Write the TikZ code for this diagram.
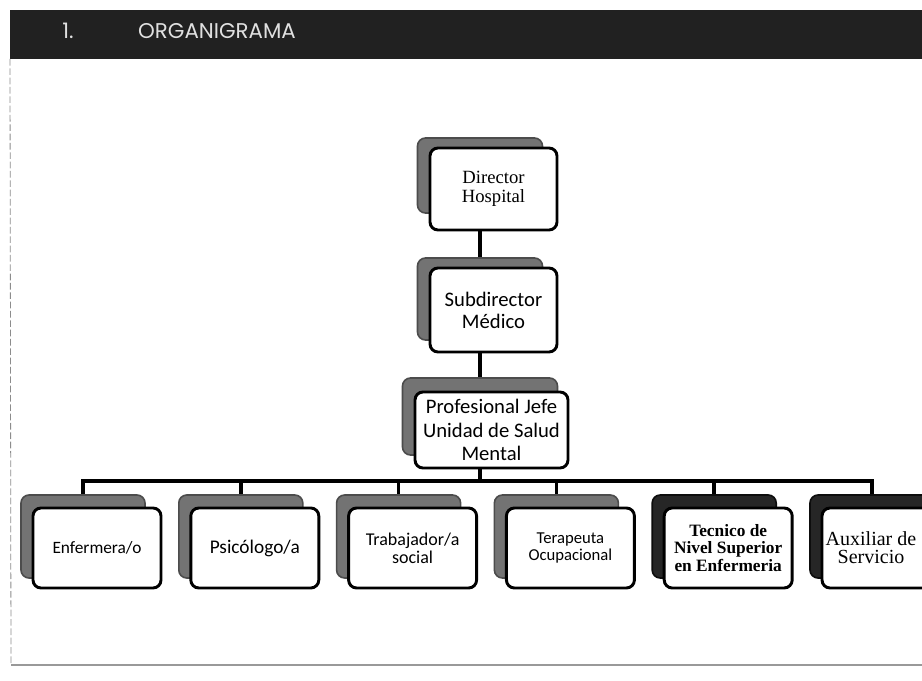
\documentclass[tikz,border=0pt]{standalone}
\usepackage{fontspec}
\setmainfont{Liberation Serif}
\newfontfamily\calibri{Carlito}
\newfontfamily\headfont{Poppins}
\usetikzlibrary{backgrounds}
\tikzset{
  shadowbox/.style={draw=black!70, fill=black!55, line width=1.2pt, rounded corners=6pt,
    minimum width=124*0.75pt, minimum height=83*0.75pt, outer sep=0pt, inner sep=0pt},
  darkshadow/.style={shadowbox, fill=black!85, draw=black!95},
  frontbox/.style={draw=black, fill=white, line width=2.2pt, rounded corners=6pt,
    minimum width=128*0.75pt, minimum height=80*0.75pt, outer sep=0pt, inner sep=1pt, align=center},
  conn/.style={line width=2.6pt, draw=black},
  headtext/.style={text=black!12, font=\headfont\fontsize{16pt}{18pt}\selectfont, inner sep=0pt},
}
\begin{document}
\begin{tikzpicture}[x=0.75pt,y=-0.75pt]
\useasboundingbox (0,0) rectangle (922,681);
\clip (0,0) rectangle (922,681);
% header
\node[fill=black!87, minimum width=912*0.75pt, minimum height=49*0.75pt, inner sep=0pt, outer sep=0pt, anchor=north west] (head) at (10,10) {};
\node[headtext] (num) at (68,31) {1.};
\node[headtext] (title) at (217,31) {ORGANIGRAMA};
% page border
\draw[black!45, line width=0.6pt, dash pattern=on 5pt off 2pt] (head.south west) -- (11,665) coordinate (pgcorner);
\draw[black!40, line width=0.8pt] (pgcorner) -- (922,665);

% top chain
\node[shadowbox, minimum width=125*0.75pt, minimum height=75*0.75pt] (dirS) at (480,175.5) {};
\node[frontbox, minimum width=127*0.75pt, minimum height=82*0.75pt, font=\fontsize{14pt}{14pt}\selectfont] (dirF) at (493.5,189) {Director\\Hospital};

\node[shadowbox, minimum width=125*0.75pt, minimum height=82*0.75pt] (subS) at (480,299) {};
\node[frontbox, minimum width=127*0.75pt, minimum height=84*0.75pt, font=\calibri\fontsize{15.5pt}{16.5pt}\selectfont] (subF) at (493.5,310) {Subdirector\\Médico};

\node[shadowbox, minimum width=155*0.75pt, minimum height=77*0.75pt] (profS) at (480,416.5) {};
\node[frontbox, minimum width=153*0.75pt, minimum height=76*0.75pt, font=\calibri\fontsize{15.5pt}{17.5pt}\selectfont] (profF) at (491.5,430) {Profesional Jefe\\Unidad de Salud\\Mental};

% bottom row
\node[shadowbox] (s1) at (83,536.5) {};
\node[frontbox, font=\calibri\fontsize{13pt}{14pt}\selectfont] (f1) at (97,548) {Enfermera/o};
\node[shadowbox] (s2) at (240.8,536.5) {};
\node[frontbox, font=\calibri\fontsize{14.5pt}{15pt}\selectfont] (f2) at (254.8,548) {Psicólogo/a};
\node[shadowbox] (s3) at (398.6,536.5) {};
\node[frontbox, font=\calibri\fontsize{13.5pt}{13.5pt}\selectfont] (f3) at (412.6,548) {Trabajador/a\\social};
\node[shadowbox] (s4) at (556.4,536.5) {};
\node[frontbox, font=\calibri\fontsize{12.5pt}{13.3pt}\selectfont] (f4) at (570.4,548) {Terapeuta\\Ocupacional};
\node[darkshadow] (s5) at (714.2,536.5) {};
\node[frontbox, font=\bfseries\fontsize{13pt}{13.3pt}\selectfont] (f5) at (728.2,548) {Tecnico de\\Nivel Superior\\en Enfermeria};
\node[darkshadow] (s6) at (872,536.5) {};
\node[frontbox, font=\fontsize{15pt}{13.5pt}\selectfont] (f6) at (886,548) {Auxiliar de\hspace*{22.5pt}\\Servicio\hspace*{22.5pt}};

\coordinate (bus) at (480,481);
\begin{pgfonlayer}{background}
\fill[white] (0,0) rectangle (922,681);
\draw[conn] (dirS.south) -- (subS.north);
\draw[conn] (subS.south) -- (profS.north);
\draw[conn] (profS.south) -- (bus);
\foreach \n in {s1,s2,s3,s4,s5,s6} {\draw[conn] (\n.north) |- (bus);}
\end{pgfonlayer}
\end{tikzpicture}
\end{document}
